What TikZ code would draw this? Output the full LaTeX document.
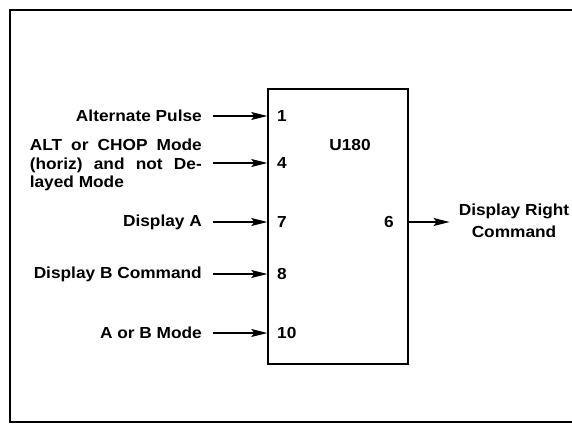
\documentclass[tikz,border=0pt]{standalone}
\usepackage{fontspec}
\setmainfont{Liberation Sans}[BoldFeatures={FakeStretch=1.08}]
\usetikzlibrary{arrows.meta,calc}
\begin{document}
\begin{tikzpicture}[x=1pt,y=-1pt,
  lab/.style={font=\fontsize{16}{18.5}\selectfont\bfseries, inner sep=0pt},
  pin/.style={font=\fontsize{16}{18}\selectfont\bfseries, inner sep=0pt, anchor=west},
  sig/.style={line width=1.2pt, -{Stealth[length=16pt,width=8pt,inset=3pt]}}]
\useasboundingbox (0,0) rectangle (572,433);
\draw[line width=2.6pt] (572,10) -- (10,10) -- (10,422) -- (572,422);
\node[draw, line width=1.5pt, minimum width=140pt, minimum height=275pt, inner sep=0pt] (u) at (338,226.5) {};
\node[lab] (title) at (350,145) {U180};
% pin numbers
\node[pin] (n1) at (277,116) {1};
\node[pin] (n4) at (277,163) {4};
\node[pin] (n7) at (277,222) {7};
\node[pin] (n8) at (277,274) {8};
\node[pin] (n10) at (277,333) {10};
\node[pin, anchor=east] (n6) at (394,222) {6};
% input labels
\node[lab, anchor=east] (l1) at (202,116) {Alternate Pulse};
\node[lab, anchor=east, align=left] (l4) at (202,165)
  {\hbox to 172pt{ALT\hfil\ or\hfil\ CHOP\hfil\ Mode}\\\hbox to 172pt{(horiz)\hfil\ and\hfil\ not\hfil\ De-}\\layed Mode};
\node[lab, anchor=east] (l7) at (202,222) {Display A};
\node[lab, anchor=east] (l8) at (202,274) {Display B Command};
\node[lab, anchor=east] (l10) at (202,333) {A or B Mode};
% output label
\node[lab, align=center, font=\fontsize{16}{21.5}\selectfont\bfseries] (out) at (514,221) {Display Right\\Command};
% connectors
\draw[sig] ($(l1.east)+(11,0)$) -- (u.west |- l1);
\draw[sig] ($(l4.east)+(11,-2)$) -- (u.west |- n4);
\draw[sig] ($(l7.east)+(11,0)$) -- (u.west |- l7);
\draw[sig] ($(l8.east)+(11,0)$) -- (u.west |- l8);
\draw[sig] ($(l10.east)+(11,0)$) -- (u.west |- l10);
\draw[sig] (u.east |- n6) -- ($(out.west |- n6)+(-9,0)$);
\end{tikzpicture}
\end{document}
